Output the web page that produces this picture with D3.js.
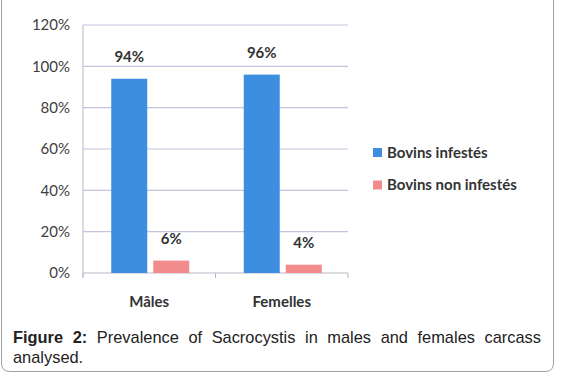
<!DOCTYPE html>
<html>
<head>
<meta charset="utf-8">
<script src="https://cdn.jsdelivr.net/npm/d3@7"></script>
<style>
  body { margin: 0; background: #fff; }
  svg { display: block; }
  .caption {
    position: absolute; left: 13px; top: 328px; width: 528px;
    font-family: "Liberation Sans", Arial, sans-serif; font-size: 16.4px;
    line-height: 19.5px; color: #222; text-align: justify;
  }
</style>
</head>
<body>
<svg width="562" height="379"></svg>
<div class="caption"><b>Figure 2:</b> Prevalence of Sacrocystis in males and females carcass analysed.</div>
<script>
  const categories = ['Mâles', 'Femelles']
  const seriesNames = ['Bovins infestés', 'Bovins non infestés']
  const infested = [94, 96]
  const notInfested = [6, 4]
  const yTicks = [0, 20, 40, 60, 80, 100, 120]

  const colors = ['#3d8ee0', '#f28b8b']
  const svg = d3.select('svg')

  // outer frame
  svg.append('path').
    attr('d', 'M1.5,-5 L1.5,363 Q1.5,371.5 10,371.5 L545,371.5 Q553.5,371.5 553.5,363 L553.5,-5').
    attr('fill', 'none').
    attr('stroke', '#a0a0a0').
    attr('stroke-width', 1)

  const x0 = d3.scaleBand().domain(categories).range([83, 348])
  const y = d3.scaleLinear().domain([0, 120]).range([273, 25])

  const g = svg.append('g')

  g.selectAll('line.grid').data(yTicks).
    enter().append('line').
    attr('x1', 83).attr('x2', 348).
    attr('y1', d => y(d)).attr('y2', d => y(d)).
    attr('stroke', d => d === 0 ? '#b8b8c4' : '#c4c4e0').
    attr('stroke-width', 1.2)

  g.append('line').
    attr('x1', 83).attr('x2', 83).attr('y1', y(120)).attr('y2', y(0) + 4).
    attr('stroke', '#b8b8c4')
  g.selectAll('line.tick').data([83, 215.5, 348]).
    enter().append('line').
    attr('x1', d => d).attr('x2', d => d).attr('y1', y(0)).attr('y2', y(0) + 5).
    attr('stroke', '#b8b8c4')

  g.selectAll('text.ytick').data(yTicks).
    enter().append('text').
    attr('x', 70).
    attr('y', d => y(d)).
    attr('dy', '0.35em').
    attr('text-anchor', 'end').
    attr('font-family', 'Lato, sans-serif').
    attr('font-size', 15).
    attr('fill', '#404040').
    text(d => d + '%')

  const bw = 36
  const gap = 6
  const series = [infested, notInfested]
  series.forEach((vals, s) => {
    const cx = c => x0(c) + x0.bandwidth() / 2
    const bx = c => s === 0 ? cx(c) - gap / 2 - bw + 1 : cx(c) + gap / 2 + 1
    g.selectAll('rect.s' + s).data(categories).
      enter().append('rect').
      attr('x', c => bx(c)).
      attr('width', bw).
      attr('y', (c, i) => y(vals[i])).
      attr('height', (c, i) => y(0) - y(vals[i])).
      attr('fill', colors[s])
    g.selectAll('text.v' + s).data(categories).
      enter().append('text').
      attr('x', c => bx(c) + bw / 2).
      attr('y', (c, i) => y(vals[i]) - 22).
      attr('dy', '0.35em').
      attr('text-anchor', 'middle').
      attr('font-family', 'Lato, sans-serif').
      attr('font-weight', 'bold').
      attr('font-size', 15).
      attr('fill', '#333').
      text((c, i) => vals[i] + '%')
  })

  g.selectAll('text.cat').data(categories).
    enter().append('text').
    attr('x', c => x0(c) + x0.bandwidth() / 2).
    attr('y', 302).
    attr('dy', '0.35em').
    attr('text-anchor', 'middle').
    attr('font-family', 'Lato, sans-serif').
    attr('font-weight', 'bold').
    attr('font-size', 15).
    attr('fill', '#333').
    text(d => d)

  const legend = svg.selectAll('g.legend').data(seriesNames).
    enter().append('g').
    attr('transform', (d, i) => `translate(373,${148 + i * 32.5})`)
  legend.append('rect').attr('width', 9).attr('height', 9).attr('fill', (d, i) => colors[i])
  legend.append('text').
    attr('x', 14).attr('y', 4.5).attr('dy', '0.35em').
    attr('font-family', 'Lato, sans-serif').
    attr('font-weight', 'bold').
    attr('font-size', 15).
    attr('fill', '#333').
    text(d => d)
</script>
</body>
</html>
